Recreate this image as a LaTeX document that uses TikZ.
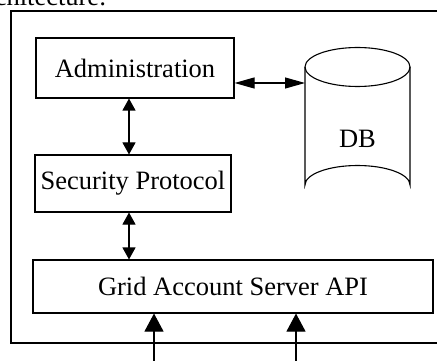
\documentclass[tikz,border=0pt]{standalone}
\usepackage{fontspec}
\setmainfont{Liberation Serif}
\usetikzlibrary{arrows.meta,shapes.geometric}
\newcommand{\unitpx}{0.453pt}
\tikzset{
  block/.style={draw,line width=1.1*\unitpx,inner sep=0pt,font=\fontsize{12}{14}\selectfont},
  biarrow/.style={line width=1.1*\unitpx,{Triangle[length=12*\unitpx,width=13*\unitpx]}-{Triangle[length=12*\unitpx,width=13*\unitpx]}},
  sidearrow/.style={line width=1.1*\unitpx,{Triangle[length=20*\unitpx,width=11*\unitpx]}-{Triangle[length=20*\unitpx,width=11*\unitpx]}},
  inarrow/.style={line width=1.1*\unitpx,-{Triangle[length=18*\unitpx,width=19*\unitpx]}}
}
\begin{document}
\begin{tikzpicture}[x=\unitpx,y=-\unitpx]

    \useasboundingbox (0,0) rectangle (437,360);
    \clip (0,0) rectangle (437,360);

    \node[anchor=base east,font=\fontsize{12}{14}\selectfont,inner sep=0pt] (caption) at (107,6) {architecture:};

    % outer frame
    \draw[line width=1.1*\unitpx] (11,11) rectangle (450,343);

    \node[block,minimum width=198*\unitpx,minimum height=60*\unitpx] (admin) at (135,68) {Administration};
    \node[block,minimum width=196*\unitpx,minimum height=57*\unitpx] (sec) at (133,183.5) {Security Protocol};
    \node[block,minimum width=400*\unitpx,minimum height=53*\unitpx] (api) at (233,286.5) {Grid Account Server API};

    % database
    \coordinate (dbl) at (305,67);
    \coordinate (dbr) at (410,67);
    \draw[line width=1.1*\unitpx] (357.5,67) ellipse [x radius=52.5,y radius=19.5];
    \draw[line width=1.1*\unitpx] (dbl) -- (305,185) arc [start angle=180,end angle=360,x radius=52.5,y radius=19.5] -- (dbr);
    \node[font=\fontsize{12}{14}\selectfont] (db) at (357.5,139) {DB};

    \coordinate (adm) at ([yshift=-15*\unitpx]admin.east);
    \draw[sidearrow] (adm) -- (adm -| dbl);

    \coordinate (a1) at ([xshift=-6*\unitpx]admin.south);
    \draw[biarrow] (a1) -- (a1 |- sec.north);
    \coordinate (s1) at ([xshift=-4*\unitpx]sec.south);
    \draw[biarrow] (s1) -- (s1 |- api.north);

    \coordinate (in1) at (154,370);
    \coordinate (in2) at (296,370);
    \draw[inarrow] (in1) -- (in1 |- api.south);
    \draw[inarrow] (in2) -- (in2 |- api.south);

\end{tikzpicture}
\end{document}
